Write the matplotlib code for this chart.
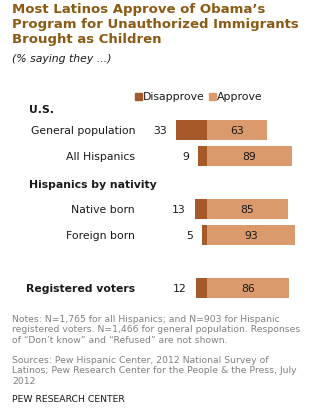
import matplotlib
matplotlib.use("Agg")
import matplotlib.pyplot as plt

# Survey results (% saying they ...)
groups = ["General population", "All Hispanics", "Native born", "Foreign born", "Registered voters"]
disapprove = [33, 9, 13, 5, 12]
approve = [63, 89, 85, 93, 86]
bold_groups = ["Registered voters"]
section_labels = ["U.S.", "Hispanics by nativity"]

W, H = 322, 410
DIS_COLOR = "#A65A2A"
APP_COLOR = "#DB9A6C"
TITLE_COLOR = "#8B5A14"
NOTE_COLOR = "#808080"

fig = plt.figure(figsize=(W / 100, H / 100), dpi=100)
fig.patch.set_facecolor("white")

# Axes spans the figure; x in percentage points with zero at the divergence line,
# y in pixel rows from the top
zero_px = 207
px_per_pt = 0.95
ax = fig.add_axes([0, 0, 1, 1])
ax.set_xlim(-zero_px / px_per_pt, (W - zero_px) / px_per_pt)
ax.set_ylim(H, 0)
ax.axis("off")

row_y = [131, 157, 210, 236, 289]
bar_h = 20

ax.barh(row_y, [-d for d in disapprove], height=bar_h, color=DIS_COLOR, left=0)
ax.barh(row_y, approve, height=bar_h, color=APP_COLOR, left=0)

label_x = -zero_px / px_per_pt + 135 / px_per_pt
for y, g, d, a in zip(row_y, groups, disapprove, approve):
    ax.text(label_x, y, g, ha="right", va="center", fontsize=7.8,
            fontweight="bold" if g in bold_groups else "normal", color="#1a1a1a")
    ax.text(-d - 9 / px_per_pt, y, f"{d}", ha="right", va="center", fontsize=7.8, color="#1a1a1a")
    ax.text(a / 2, y, f"{a}", ha="center", va="center", fontsize=7.8, color="#1a1a1a")

# Section headers
for txt, y in zip(section_labels, [110, 185]):
    fig.text(29 / W, 1 - y / H, txt, ha="left", va="center", fontsize=7.8,
             fontweight="bold", color="#1a1a1a")

# Legend
for x, lab, col in [(135, "Disapprove", DIS_COLOR), (209, "Approve", APP_COLOR)]:
    fig.patches.append(plt.Rectangle((x / W, 1 - 101 / H), 7 / W, 7 / H,
                                     transform=fig.transFigure, color=col))
    fig.text((x + 8) / W, 1 - 97 / H, lab, ha="left", va="center", fontsize=7.8, color="#1a1a1a")

# Title and subtitle
title = "Most Latinos Approve of Obama\u2019s\nProgram for Unauthorized Immigrants\nBrought as Children"
fig.text(12 / W, 1 - 3 / H, title, ha="left", va="top", fontsize=9.5, fontweight="bold",
         color=TITLE_COLOR, linespacing=1.2)
fig.text(12 / W, 1 - 59 / H, "(% saying they ...)", ha="left", va="center", fontsize=7.8,
         style="italic", color="#1a1a1a")

notes = ("Notes: N=1,765 for all Hispanics; and N=903 for Hispanic\n"
         "registered voters. N=1,466 for general population. Responses\n"
         "of \u201cDon\u2019t know\u201d and \u201cRefused\u201d are not shown.")
sources = ("Sources: Pew Hispanic Center, 2012 National Survey of\n"
           "Latinos; Pew Research Center for the People & the Press, July\n"
           "2012")
fig.text(12 / W, 1 - 315 / H, notes, ha="left", va="top", fontsize=6.7, color=NOTE_COLOR,
         linespacing=1.2)
fig.text(12 / W, 1 - 356 / H, sources, ha="left", va="top", fontsize=6.7, color=NOTE_COLOR,
         linespacing=1.2)
fig.text(12 / W, 1 - 400 / H, "PEW RESEARCH CENTER", ha="left", va="center", fontsize=6.7,
         color="#1a1a1a")

fig.savefig("out.png", dpi=100, facecolor="white")
